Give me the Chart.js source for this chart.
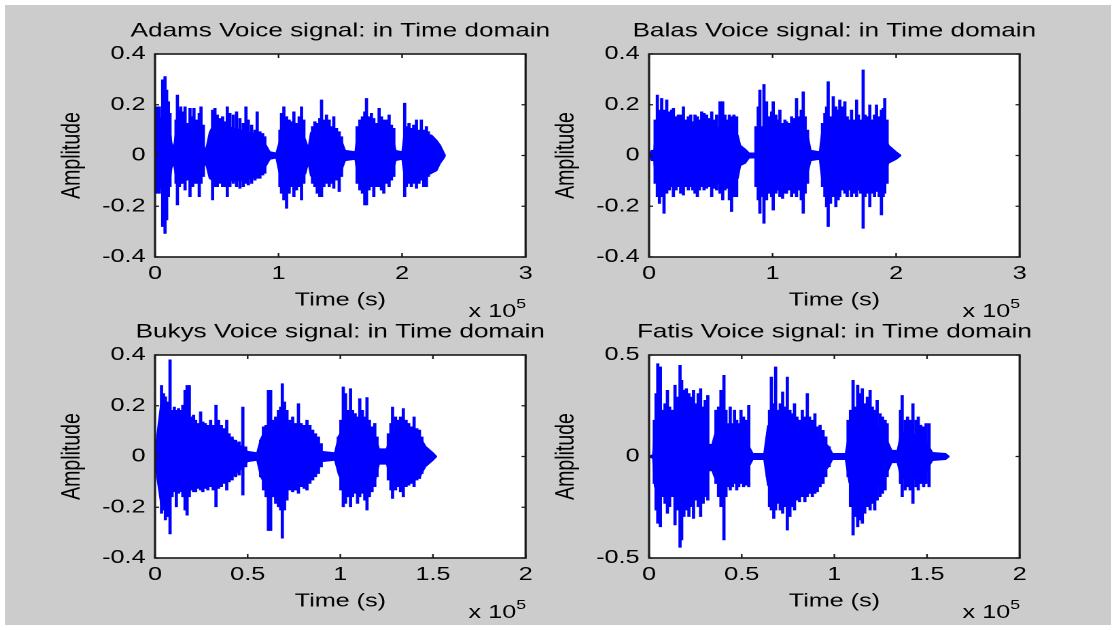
<!DOCTYPE html>
<html>
<head>
<meta charset="utf-8">
<title>Voice signals in time domain</title>
<script src="https://cdn.jsdelivr.net/npm/chart.js@4.4.0/dist/chart.umd.min.js"></script>
<style>
  html, body { margin: 0; padding: 0; background: #fff; }
  #frame { position: absolute; left: 5px; top: 5px; width: 1106px; height: 620px; background: #cccccc; }
  /* the whole figure is drawn narrow and stretched sideways */
  #fig { position: absolute; left: 0; top: 0; width: 820px; height: 630px; transform: scaleX(1.36098); transform-origin: 0 0; }
  .panel { position: absolute; }
  .exp { position: absolute; font: 18.5px 'Liberation Sans', Arial, sans-serif; color: #000; white-space: nowrap; line-height: 20px; }
  .exp sup { font-size: 13px; vertical-align: 0; position: relative; top: -9px; }
</style>
</head>
<body>
<div id="frame"></div>
<div id="fig"></div>
<script>
// times in thousands of samples; the envelope gives the body of each trace,
// the spikes are the single peaks standing out of it
const adamsTime = [0, 1, 4, 9, 12, 13.5, 15, 17, 22, 28, 34, 38, 41, 44, 47, 55, 62, 70, 78, 85, 90, 93, 98, 101, 103, 110, 118, 122, 124, 126, 130, 137, 145, 151, 154, 162, 164, 170, 178, 186, 192, 195, 200, 202, 208, 216, 224, 228, 231, 234, 235];
const adamsHigh = [0, 0.15, 0.15, 0.14, 0.11, 0.05, 0.03, 0.10, 0.11, 0.11, 0.10, 0.06, 0.02, 0.09, 0.12, 0.12, 0.11, 0.10, 0.09, 0.08, 0.04, 0.015, 0.01, 0.06, 0.11, 0.11, 0.10, 0.06, 0.03, 0.09, 0.10, 0.10, 0.09, 0.06, 0.02, 0.015, 0.10, 0.12, 0.11, 0.10, 0.08, 0.02, 0.015, 0.10, 0.10, 0.09, 0.08, 0.06, 0.04, 0.01, 0];
const adamsLow = [0, -0.13, -0.13, -0.12, -0.11, -0.05, -0.03, -0.09, -0.09, -0.09, -0.08, -0.06, -0.03, -0.09, -0.10, -0.10, -0.10, -0.10, -0.09, -0.08, -0.04, -0.015, -0.01, -0.08, -0.10, -0.10, -0.10, -0.07, -0.03, -0.08, -0.10, -0.10, -0.09, -0.06, -0.02, -0.015, -0.09, -0.10, -0.10, -0.09, -0.07, -0.02, -0.015, -0.09, -0.09, -0.09, -0.07, -0.06, -0.03, -0.01, 0];
const adamsSpikeTime = [1.4, 3.5, 6.2, 8.1, 9.4, 10.8, 12.1, 17, 18.1, 19.7, 20.8, 22.4, 24.3, 26.1, 28.3, 30.5, 31.5, 33.7, 35.8, 37.2, 39.1,
  46.6, 48.5, 50.4, 52.6, 54.7, 56.9, 58.5, 60.6, 63.3, 66, 68.7, 71.4, 73.6, 75.5, 78.2, 80.9, 82.7, 84.9, 87.1, 88.9,
  101.1, 102.4, 104.3, 106.5, 108.6, 110.5, 112.4, 114.5, 116.7, 118.6, 120.5,
  127.5, 129.4, 131.3, 133.4, 134.8, 136.7, 138.8, 141, 142.9, 144.7, 146.9, 149.1, 151,
  163.6, 165.8, 167.9, 169.8, 171.2, 173.3, 175.2, 177.1, 179.2, 181.4, 183.3, 185.2, 187.3, 189.5, 191.4, 193.3,
  202.1, 203.5, 205.6, 207.5, 209.4, 211.6, 213.7, 215.6, 217.5, 219.7, 221.3, 222.9];
const adamsSpikeHigh = [0.192, 0.192, 0.298, 0.311, 0.258, 0.212, 0.166, 0.14, 0.238, 0.179, 0.192, 0.172, 0.192, 0.127, 0.186, 0.153, 0.186, 0.14, 0.166, 0.192, 0.12,
  0.179, 0.186, 0.16, 0.146, 0.153, 0.133, 0.192, 0.166, 0.16, 0.172, 0.146, 0.127, 0.192, 0.14, 0.12, 0.10, 0.172, 0.094, 0.087, 0.074,
  0.10, 0.166, 0.192, 0.153, 0.14, 0.133, 0.172, 0.127, 0.153, 0.192, 0.14,
  0.114, 0.133, 0.127, 0.146, 0.219, 0.14, 0.16, 0.14, 0.114, 0.153, 0.107, 0.094, 0.074,
  0.114, 0.14, 0.153, 0.172, 0.225, 0.153, 0.166, 0.146, 0.127, 0.186, 0.153, 0.14, 0.14, 0.16, 0.12, 0.107,
  0.206, 0.114, 0.127, 0.107, 0.12, 0.14, 0.10, 0.14, 0.10, 0.114, 0.094, 0.074];
const adamsSpikeLow = [-0.149, -0.149, -0.28, -0.307, -0.254, -0.162, -0.123, -0.11, -0.195, -0.123, -0.11, -0.11, -0.136, -0.097, -0.162, -0.123, -0.11, -0.11, -0.162, -0.11, -0.083,
  -0.175, -0.123, -0.123, -0.11, -0.123, -0.123, -0.162, -0.123, -0.11, -0.123, -0.129, -0.123, -0.11, -0.116, -0.11, -0.097, -0.09, -0.09, -0.077, -0.07,
  -0.123, -0.149, -0.175, -0.208, -0.149, -0.123, -0.162, -0.136, -0.123, -0.175, -0.11,
  -0.11, -0.123, -0.149, -0.162, -0.162, -0.123, -0.11, -0.123, -0.11, -0.129, -0.097, -0.142, -0.083,
  -0.11, -0.136, -0.149, -0.195, -0.195, -0.136, -0.123, -0.162, -0.123, -0.123, -0.136, -0.149, -0.11, -0.123, -0.097, -0.083,
  -0.162, -0.123, -0.11, -0.123, -0.11, -0.129, -0.11, -0.097, -0.123, -0.123, -0.083, -0.07];

const balasTime = [0, 2, 4, 5, 7, 14, 20, 28, 36, 44, 52, 60, 67, 72, 74, 78, 81, 86, 87, 92, 100, 108, 116, 124, 129, 131, 138, 140, 146, 154, 162, 170, 178, 186, 191, 194, 200, 204];
const balasHigh = [0, 0.02, 0.02, 0.09, 0.12, 0.12, 0.11, 0.11, 0.11, 0.11, 0.11, 0.11, 0.10, 0.08, 0.04, 0.025, 0.01, 0.01, 0.09, 0.11, 0.11, 0.10, 0.11, 0.11, 0.07, 0.02, 0.015, 0.10, 0.12, 0.12, 0.11, 0.11, 0.11, 0.11, 0.07, 0.04, 0.015, 0];
const balasLow = [0, -0.02, -0.02, -0.10, -0.12, -0.11, -0.11, -0.11, -0.11, -0.11, -0.11, -0.11, -0.10, -0.09, -0.04, -0.03, -0.01, -0.01, -0.10, -0.12, -0.12, -0.11, -0.11, -0.12, -0.06, -0.02, -0.015, -0.10, -0.12, -0.12, -0.11, -0.11, -0.11, -0.11, -0.06, -0.03, -0.015, 0];
const balasSpikeTime = [4.9, 6.7, 8.4, 10.2, 12.1, 14.3, 16.4, 18.3, 19.7, 21.8, 23.7, 25.6, 27.8, 29.9, 31.8, 33.7, 35.3, 37.2, 39.1, 40.7, 42.6, 44.5, 46.6, 48.8, 50.7, 52.6, 54.7, 57.4, 59.6, 61.4, 63.3, 65, 66.8, 68.7, 70.9,
  86.5, 88.4, 89.7, 91.1, 93, 95.1, 97.3, 99.2, 100.5, 102.7, 104.6, 105.9, 108.1, 110, 111.3, 113.5, 115.4, 117.2, 119.4, 121.6, 123.2, 124.8, 126.4, 128.3,
  140.4, 142.3, 143.7, 145, 146.9, 149.1, 151.2, 153.1, 154.4, 156.6, 158.5, 160.4, 162, 163.9, 165.8, 168, 169.5, 171.2, 173.3, 174.9, 176.8, 178.7, 180.6, 182.5, 184.1, 186.3, 188.1, 189.5, 190.8, 192.7];
const balasSpikeHigh = [0.14, 0.238, 0.179, 0.225, 0.179, 0.219, 0.172, 0.179, 0.186, 0.153, 0.16, 0.16, 0.192, 0.14, 0.153, 0.16, 0.133, 0.16, 0.153, 0.14, 0.172, 0.166, 0.16, 0.146, 0.172, 0.14, 0.16, 0.212, 0.212, 0.16, 0.14, 0.16, 0.153, 0.16, 0.153,
  0.114, 0.192, 0.258, 0.114, 0.28, 0.212, 0.153, 0.172, 0.212, 0.16, 0.14, 0.179, 0.127, 0.14, 0.133, 0.127, 0.153, 0.146, 0.225, 0.153, 0.179, 0.251, 0.153, 0.10,
  0.127, 0.166, 0.192, 0.291, 0.153, 0.232, 0.192, 0.179, 0.219, 0.192, 0.212, 0.153, 0.14, 0.179, 0.14, 0.219, 0.16, 0.14, 0.337, 0.16, 0.153, 0.199, 0.14, 0.16, 0.199, 0.153, 0.179, 0.186, 0.225, 0.14];
const balasSpikeLow = [-0.11, -0.162, -0.189, -0.162, -0.228, -0.149, -0.136, -0.123, -0.162, -0.136, -0.123, -0.149, -0.156, -0.123, -0.136, -0.123, -0.136, -0.149, -0.162, -0.136, -0.123, -0.136, -0.129, -0.123, -0.162, -0.129, -0.136, -0.149, -0.175, -0.136, -0.129, -0.175, -0.221, -0.162, -0.162,
  -0.123, -0.175, -0.228, -0.162, -0.267, -0.175, -0.149, -0.162, -0.215, -0.149, -0.136, -0.162, -0.169, -0.149, -0.149, -0.136, -0.162, -0.149, -0.162, -0.136, -0.175, -0.228, -0.149, -0.11,
  -0.123, -0.162, -0.202, -0.28, -0.189, -0.162, -0.202, -0.175, -0.162, -0.136, -0.149, -0.162, -0.136, -0.162, -0.149, -0.162, -0.136, -0.149, -0.287, -0.162, -0.149, -0.202, -0.149, -0.162, -0.142, -0.162, -0.234, -0.162, -0.149, -0.11];

const bukysTime = [0, 1, 3, 6, 9, 13, 17, 20, 28, 34, 40, 45, 48, 50, 55, 57, 60, 64, 70, 76, 82, 87, 90, 97, 99, 102, 108, 114, 119, 121, 125, 127, 132, 138, 143, 146, 150, 152];
const bukysHigh = [0, 0.08, 0.20, 0.17, 0.17, 0.17, 0.15, 0.12, 0.11, 0.11, 0.08, 0.05, 0.03, 0.02, 0.015, 0.07, 0.11, 0.12, 0.13, 0.11, 0.10, 0.07, 0.02, 0.015, 0.08, 0.12, 0.13, 0.12, 0.08, 0.03, 0.03, 0.09, 0.10, 0.10, 0.08, 0.04, 0.015, 0];
const bukysLow = [0, -0.08, -0.18, -0.15, -0.13, -0.13, -0.13, -0.12, -0.11, -0.11, -0.09, -0.06, -0.04, -0.02, -0.015, -0.08, -0.12, -0.14, -0.13, -0.11, -0.10, -0.07, -0.02, -0.015, -0.07, -0.12, -0.13, -0.12, -0.09, -0.03, -0.03, -0.09, -0.10, -0.10, -0.08, -0.04, -0.015, 0];
const bukysSpikeTime = [2.1, 3.5, 4.6, 5.6, 6.9, 8.1, 9.2, 10.4, 11.5, 12.7, 13.9, 15, 16.2, 17.3, 18.5, 19.6, 20.8, 21.9, 23.3, 24.6, 25.8, 27.1, 28.5, 30, 31.4, 32.9, 34.3, 35.8, 37.3, 38.7, 40, 41.6, 43.5, 45.4, 47.4, 48.9,
  57, 58.5, 59.9, 61.2, 62.4, 63.7, 65.1, 66.6, 67.8, 68.7, 69.9, 71.2, 72.8, 74.3, 75.9, 77.4, 78.9, 80.5, 82, 83.6, 85.1, 86.6, 88.2, 89.7,
  98.9, 100.3, 101.6, 102.8, 104.1, 105.5, 106.6, 108, 109.3, 110.5, 111.9, 113.2, 114.4, 115.7, 117.1, 118.6, 119.8,
  125.9, 127.3, 128.2, 129.8, 131.1, 132.5, 134, 135.5, 136.9, 138.2, 139.8, 141.3, 142.7, 144];
const bukysSpikeHigh = [0.09, 0.28, 0.248, 0.235, 0.215, 0.381, 0.182, 0.195, 0.182, 0.189, 0.182, 0.202, 0.261, 0.28, 0.28, 0.156, 0.163, 0.143, 0.13, 0.176, 0.136, 0.13, 0.123, 0.143, 0.123, 0.202, 0.143, 0.123, 0.11, 0.143, 0.09, 0.077, 0.064, 0.058, 0.195, 0.038,
  0.064, 0.117, 0.123, 0.261, 0.261, 0.143, 0.156, 0.182, 0.195, 0.287, 0.215, 0.182, 0.143, 0.156, 0.13, 0.208, 0.13, 0.123, 0.143, 0.123, 0.104, 0.09, 0.077, 0.051,
  0.077, 0.143, 0.274, 0.248, 0.182, 0.267, 0.182, 0.169, 0.156, 0.228, 0.182, 0.156, 0.232, 0.143, 0.117, 0.13, 0.077,
  0.09, 0.13, 0.195, 0.156, 0.143, 0.156, 0.189, 0.143, 0.13, 0.117, 0.156, 0.11, 0.104, 0.077];
const bukysSpikeLow = [-0.106, -0.224, -0.211, -0.25, -0.237, -0.305, -0.159, -0.139, -0.198, -0.145, -0.139, -0.159, -0.211, -0.231, -0.159, -0.132, -0.139, -0.139, -0.126, -0.132, -0.139, -0.126, -0.132, -0.119, -0.132, -0.198, -0.126, -0.119, -0.106, -0.132, -0.10, -0.093, -0.08, -0.073, -0.152, -0.041,
  -0.08, -0.132, -0.159, -0.292, -0.292, -0.159, -0.185, -0.198, -0.211, -0.322, -0.211, -0.172, -0.132, -0.139, -0.132, -0.145, -0.119, -0.126, -0.132, -0.106, -0.093, -0.08, -0.067, -0.041,
  -0.054, -0.132, -0.198, -0.185, -0.159, -0.198, -0.159, -0.145, -0.185, -0.159, -0.145, -0.172, -0.211, -0.159, -0.139, -0.119, -0.08,
  -0.093, -0.132, -0.165, -0.132, -0.119, -0.139, -0.159, -0.119, -0.113, -0.106, -0.119, -0.093, -0.087, -0.067];

const fatisTime = [0, 2, 3, 6, 10, 14, 18, 22, 26, 30, 32, 34, 36, 41, 46, 51, 54, 56, 62, 64, 68, 74, 80, 86, 92, 97, 99, 106, 108, 112, 118, 124, 129, 131, 134, 136, 142, 148, 151, 153, 160, 162];
const fatisHigh = [0, 0.01, 0.15, 0.18, 0.17, 0.18, 0.19, 0.17, 0.16, 0.14, 0.06, 0.06, 0.13, 0.13, 0.12, 0.11, 0.05, 0.015, 0.015, 0.15, 0.19, 0.17, 0.15, 0.13, 0.09, 0.05, 0.015, 0.015, 0.12, 0.18, 0.17, 0.14, 0.07, 0.03, 0.03, 0.12, 0.11, 0.10, 0.05, 0.02, 0.015, 0];
const fatisLow = [0, -0.01, -0.15, -0.18, -0.17, -0.19, -0.20, -0.18, -0.17, -0.14, -0.07, -0.07, -0.12, -0.13, -0.11, -0.11, -0.05, -0.015, -0.015, -0.14, -0.19, -0.18, -0.15, -0.13, -0.10, -0.05, -0.015, -0.015, -0.13, -0.19, -0.17, -0.14, -0.07, -0.03, -0.03, -0.11, -0.11, -0.10, -0.05, -0.02, -0.015, 0];
const fatisSpikeTime = [2.8, 3.8, 4.7, 6.1, 7.2, 8.6, 9.9, 11.1, 12.4, 14, 15.3, 16.7, 17.6, 18.8, 20.1, 21.5, 22.6, 24, 25.3, 26.5, 27.8, 29.2, 30.3, 31.7,
  36.1, 37.5, 38.8, 40.4, 41.5, 42.7, 43.8, 45, 46.1, 47.3, 48.4, 49.6, 51, 52.3, 53.8,
  63.8, 65, 66, 67.3, 68.3, 69.6, 70.8, 72.1, 73.5, 74.6, 76, 77.3, 78.5, 79.8, 81.2, 82.7, 84.1, 85.4, 86.6, 88.1, 89.5, 90.8, 92.3, 93.9, 95.4, 97.2,
  107.4, 108.7, 110.1, 111.2, 112.6, 113.9, 115.1, 116.4, 117.8, 119.3, 120.5, 121.8, 123.1, 124.7, 126, 127.4, 128.5,
  135.7, 136.6, 138.2, 139.5, 140.9, 142.4, 144, 145.3, 146.6, 148.2, 149.5, 151.1];
const fatisSpikeHigh = [0.179, 0.31, 0.457, 0.441, 0.228, 0.26, 0.326, 0.244, 0.228, 0.351, 0.293, 0.449, 0.375, 0.326, 0.334, 0.31, 0.293, 0.326, 0.26, 0.31, 0.334, 0.244, 0.277, 0.301,
  0.228, 0.244, 0.326, 0.40, 0.228, 0.162, 0.244, 0.162, 0.228, 0.179, 0.162, 0.228, 0.195, 0.179, 0.252,
  0.097, 0.228, 0.391, 0.26, 0.441, 0.228, 0.26, 0.318, 0.244, 0.391, 0.228, 0.211, 0.26, 0.195, 0.179, 0.228, 0.195, 0.31, 0.195, 0.179, 0.211, 0.146, 0.154, 0.129, 0.097, 0.048,
  0.179, 0.228, 0.375, 0.244, 0.351, 0.31, 0.334, 0.26, 0.293, 0.326, 0.244, 0.228, 0.277, 0.211, 0.195, 0.179, 0.162,
  0.228, 0.301, 0.179, 0.195, 0.179, 0.26, 0.179, 0.195, 0.154, 0.146, 0.162, 0.162];
const fatisSpikeLow = [-0.133, -0.264, -0.329, -0.346, -0.198, -0.231, -0.28, -0.247, -0.198, -0.337, -0.264, -0.447, -0.411, -0.296, -0.264, -0.296, -0.247, -0.305, -0.215, -0.247, -0.296, -0.231, -0.198, -0.215,
  -0.133, -0.198, -0.247, -0.411, -0.198, -0.149, -0.165, -0.149, -0.133, -0.165, -0.149, -0.133, -0.149, -0.141, -0.149,
  -0.10, -0.247, -0.264, -0.305, -0.264, -0.231, -0.264, -0.28, -0.247, -0.362, -0.296, -0.247, -0.264, -0.215, -0.223, -0.198, -0.223, -0.198, -0.182, -0.198, -0.182, -0.174, -0.149, -0.133, -0.10, -0.051,
  -0.10, -0.247, -0.387, -0.296, -0.346, -0.313, -0.329, -0.28, -0.247, -0.264, -0.231, -0.264, -0.215, -0.198, -0.182, -0.165, -0.10,
  -0.133, -0.198, -0.165, -0.149, -0.165, -0.231, -0.149, -0.165, -0.133, -0.149, -0.133, -0.149];

// axis ticks: time in units of 10^5 samples
const timeTicks3 = [0, 1, 2, 3];
const timeTicks2 = [0, 0.5, 1, 1.5, 2];
const ampTicks4 = [-0.4, -0.2, 0, 0.2, 0.4];
const ampTicks5 = [-0.5, 0, 0.5];

const S = 1116 / 820;   // sideways stretch applied to #fig
const AXIS_W = 80;      // room each side of the plot box (labels on the left, spacer on the right)
const TITLE_H = 45;
const XAXIS_H = 75;
const BLUE = '#0000ff';
const INK = '#000000';

Chart.defaults.font.family = "'Liberation Sans', Arial, sans-serif";
Chart.defaults.color = INK;

// white plot box with the frame and inward tick marks on all four sides
const axisBox = {
  id: 'axisBox',
  beforeDraw(chart) {
    const { ctx, chartArea: a } = chart;
    ctx.save();
    ctx.fillStyle = '#ffffff';
    ctx.fillRect(a.left, a.top, a.right - a.left, a.bottom - a.top);
    ctx.restore();
  },
  afterDatasetsDraw(chart) {
    const { ctx, chartArea: a, scales: { x, y } } = chart;
    ctx.save();
    ctx.strokeStyle = '#1a1a1a';
    ctx.lineWidth = 1.2;
    ctx.beginPath();
    x.ticks.forEach(t => {
      const px = x.getPixelForValue(t.value);
      ctx.moveTo(px, a.bottom); ctx.lineTo(px, a.bottom - 4);
      ctx.moveTo(px, a.top); ctx.lineTo(px, a.top + 4);
    });
    y.ticks.forEach(t => {
      const py = y.getPixelForValue(t.value);
      ctx.moveTo(a.left, py); ctx.lineTo(a.left + 3, py);
      ctx.moveTo(a.right, py); ctx.lineTo(a.right - 3, py);
    });
    ctx.stroke();
    ctx.lineWidth = 1.6;
    ctx.strokeRect(a.left, a.top, a.right - a.left, a.bottom - a.top);
    ctx.restore();
  }
};

function addPanel(p) {
  const fig = document.getElementById('fig');
  const plotL = p.left / S, plotR = p.right / S;
  const plotW = plotR - plotL, plotH = p.bottom - p.top;

  const box = document.createElement('div');
  box.className = 'panel';
  box.style.left = (plotL - AXIS_W) + 'px';
  box.style.top = (p.top - TITLE_H) + 'px';
  box.style.width = (AXIS_W + plotW + AXIS_W) + 'px';
  box.style.height = (TITLE_H + plotH + XAXIS_H) + 'px';
  const canvas = document.createElement('canvas');
  box.appendChild(canvas);
  fig.appendChild(box);

  const exp = document.createElement('div');
  exp.className = 'exp';
  exp.innerHTML = 'x 10<sup>5</sup>';
  exp.style.right = (820 - plotR) + 'px';
  exp.style.top = (p.bottom + 44) + 'px';
  fig.appendChild(exp);

  new Chart(canvas, {
    type: 'line',
    data: {
      datasets: [
        {
          data: p.time.map((t, i) => ({ x: t, y: p.high[i] })),
          fill: '+1', backgroundColor: BLUE, borderColor: BLUE,
          borderWidth: 1, pointRadius: 0, tension: 0
        },
        {
          data: p.time.map((t, i) => ({ x: t, y: p.low[i] })),
          fill: false, borderColor: BLUE, borderWidth: 1, pointRadius: 0, tension: 0
        },
        {
          type: 'bar',
          data: p.spikeTime.map((t, i) => ({ x: t, y: [p.spikeLow[i], p.spikeHigh[i]] })),
          backgroundColor: BLUE, borderWidth: 0, barThickness: 1.7
        }
      ]
    },
    options: {
      responsive: true,
      maintainAspectRatio: false,
      animation: false,
      events: [],
      devicePixelRatio: 2,
      plugins: {
        legend: { display: false },
        tooltip: { enabled: false },
        title: {
          display: true, text: p.title, color: INK,
          font: { size: 19.2, weight: 'normal' },
          padding: { top: 10.6, bottom: 11.36 }
        }
      },
      scales: {
        x: {
          type: 'linear', min: 0, max: p.xTicks[p.xTicks.length - 1] * 100, offset: false,
          grid: { display: false, drawTicks: false },
          border: { display: false },
          afterBuildTicks: s => { s.ticks = p.xTicks.map(v => ({ value: v * 100 })); },
          afterFit: s => { s.height = XAXIS_H; },
          ticks: {
            padding: 6, color: INK, font: { size: 18.5 }, maxRotation: 0, autoSkip: false,
            callback: v => String(+(v / 100).toFixed(1))
          },
          title: {
            display: true, text: 'Time (s)', color: INK, font: { size: 18.5 },
            padding: { top: 0, bottom: 20.6 }
          }
        },
        y: {
          type: 'linear', min: p.yTicks[0], max: p.yTicks[p.yTicks.length - 1],
          grid: { display: false, drawTicks: false },
          border: { display: false },
          afterBuildTicks: s => { s.ticks = p.yTicks.map(v => ({ value: v })); },
          afterFit: s => { s.width = AXIS_W; },
          ticks: {
            padding: 7, color: INK, font: { size: 18.5 }, autoSkip: false,
            callback: v => String(+v.toFixed(1))
          },
          title: {
            display: true, text: 'Amplitude', color: INK, font: { size: 19.5 },
            padding: { top: 7.6, bottom: 0 }
          }
        },
        // empty right-hand spacer so the title centres over the plot box
        spacer: {
          type: 'linear', position: 'right', display: true,
          grid: { display: false, drawTicks: false },
          border: { display: false },
          ticks: { display: false },
          afterFit: s => { s.width = AXIS_W; }
        }
      }
    },
    plugins: [axisBox]
  });
}

addPanel({ title: 'Adams Voice signal: in Time domain', left: 155, right: 526, top: 54, bottom: 257,
  time: adamsTime, high: adamsHigh, low: adamsLow,
  spikeTime: adamsSpikeTime, spikeHigh: adamsSpikeHigh, spikeLow: adamsSpikeLow,
  xTicks: timeTicks3, yTicks: ampTicks4 });
addPanel({ title: 'Balas Voice signal: in Time domain', left: 649, right: 1020, top: 54, bottom: 257,
  time: balasTime, high: balasHigh, low: balasLow,
  spikeTime: balasSpikeTime, spikeHigh: balasSpikeHigh, spikeLow: balasSpikeLow,
  xTicks: timeTicks3, yTicks: ampTicks4 });
addPanel({ title: 'Bukys Voice signal: in Time domain', left: 155, right: 526, top: 355, bottom: 558,
  time: bukysTime, high: bukysHigh, low: bukysLow,
  spikeTime: bukysSpikeTime, spikeHigh: bukysSpikeHigh, spikeLow: bukysSpikeLow,
  xTicks: timeTicks2, yTicks: ampTicks4 });
addPanel({ title: 'Fatis Voice signal: in Time domain', left: 649, right: 1020, top: 355, bottom: 558,
  time: fatisTime, high: fatisHigh, low: fatisLow,
  spikeTime: fatisSpikeTime, spikeHigh: fatisSpikeHigh, spikeLow: fatisSpikeLow,
  xTicks: timeTicks2, yTicks: ampTicks5 });
</script>
</body>
</html>
